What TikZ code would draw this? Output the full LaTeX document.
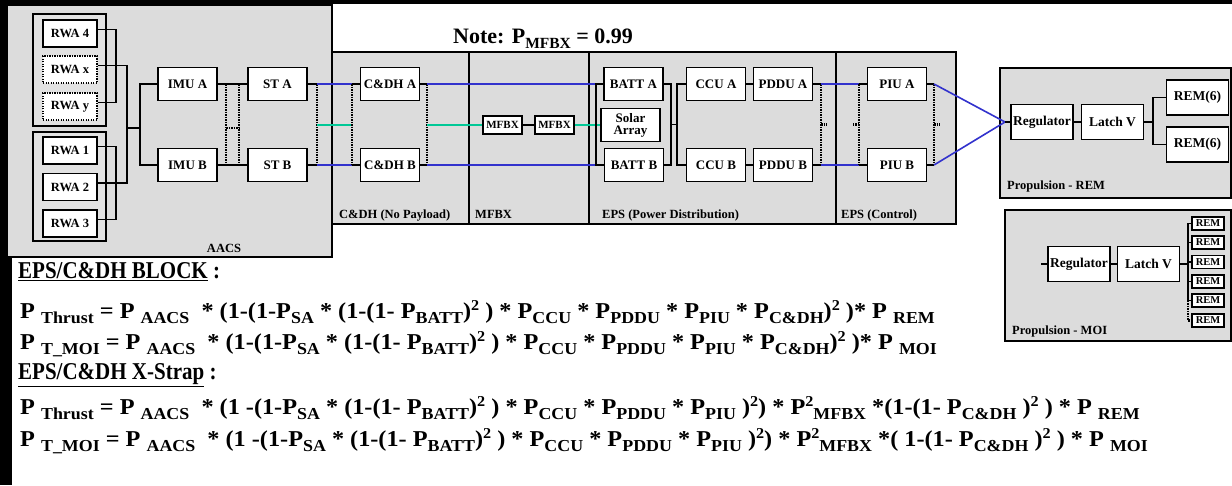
\documentclass[tikz,border=0pt]{standalone}
\usepackage{fontspec}
\setmainfont{Liberation Serif}
\usetikzlibrary{positioning,calc}
\definecolor{panelgray}{RGB}{220,220,220}
\definecolor{groupgray}{RGB}{226,226,226}
\definecolor{busblue}{RGB}{50,50,205}
\definecolor{busgreen}{RGB}{0,200,150}
% lowered / raised parts of the reliability formulas
\newcommand{\lo}[1]{\raisebox{-0.26em}{\fontsize{15.5}{15}\selectfont #1}}
\newcommand{\hi}[1]{\raisebox{0.33em}{\fontsize{14}{14}\selectfont #1}}

\begin{document}
\begin{tikzpicture}[x=1pt,y=-1pt,
  panel/.style={fill=panelgray,draw=black,line width=1.5pt},
  group/.style={fill=groupgray,draw=black,line width=1.8pt},
  blk/.style={draw,fill=white,line width=1.6pt,minimum width=59pt,minimum height=33pt,
    inner sep=1pt,align=center,font=\bfseries\fontsize{13}{12}\selectfont},
  rwa/.style={blk,minimum width=54pt,minimum height=27pt,font=\bfseries\fontsize{12.5}{12}\selectfont},
  optrwa/.style={rwa,line width=2.2pt,dash pattern=on 1.4pt off 1.1pt},
  bigblk/.style={blk,minimum width=62pt,minimum height=35pt,font=\bfseries\fontsize{13.5}{13}\selectfont},
  tiny/.style={draw,fill=white,line width=1.5pt,minimum width=32pt,minimum height=13pt,
    inner sep=0pt,font=\bfseries\fontsize{10.5}{10}\selectfont},
  mfbx/.style={tiny,minimum width=39pt,minimum height=18pt,font=\bfseries\fontsize{11}{10}\selectfont},
  link/.style={line width=1.8pt},
  xlink/.style={line width=2.6pt,dash pattern=on 1.5pt off 1pt},
  bluebus/.style={line width=1.6pt,busblue},
  greenbus/.style={line width=1.6pt,busgreen},
  tag/.style={anchor=base west,inner sep=0pt,font=\bfseries\fontsize{12.5}{12}\selectfont},
  eq/.style={anchor=base west,inner sep=0pt,font=\bfseries\fontsize{21}{24}\selectfont}]
\useasboundingbox (0,0) rectangle (1232,485);
\fill[white] (0,0) rectangle (1232,485);
\fill[black] (0,0) rectangle (1232,4);
\fill[black] (0,0) rectangle (12,485);

% ---- panels
\draw[panel] (7,5) rectangle (332,257);
\draw[panel] (332,52) rectangle (469,224);
\draw[panel] (469,52) rectangle (589,224);
\draw[panel] (589,52) rectangle (836,224);
\draw[panel] (836,52) rectangle (956,224);
\draw[panel] (1000,68) rectangle (1231,198);
\draw[panel] (1005,210) rectangle (1231,341);
\draw[group] (33,14) rectangle (106,126);
\draw[group] (33,132) rectangle (106,241);

\node[tag,anchor=base] (aacstag) at (224,252) {AACS};
\node[tag] (cdhtag) at (339,218) {C\&DH (No Payload)};
\node[tag] (mfbxtag) at (475,218) {MFBX};
\node[tag] (pdtag) at (602,218) {EPS (Power Distribution)};
\node[tag] (ctltag) at (841,218) {EPS (Control)};
\node[tag] (remtag) at (1007,189) {Propulsion - REM};
\node[tag] (moitag) at (1012,334) {Propulsion - MOI};
\node[anchor=base west,inner sep=0pt,font=\bfseries\fontsize{22}{22}\selectfont] (note) at (453,43)
  {Note: P\lo{MFBX} = 0.99};

% ---- AACS
\node[rwa] (rwa4) at (70,33.5) {RWA 4};
\node[optrwa] (rwax) at (70,69.5) {RWA x};
\node[optrwa] (rway) at (70,106.5) {RWA y};
\node[rwa] (rwa1) at (70,150.5) {RWA 1};
\node[rwa] (rwa2) at (70,187) {RWA 2};
\node[rwa] (rwa3) at (70,223.5) {RWA 3};
\node[blk] (imua) at (187.5,84) {IMU A};
\node[blk] (imub) at (187.5,165) {IMU B};
\node[blk] (sta) at (277.5,84) {ST A};
\node[blk] (stb) at (277.5,165) {ST B};

\coordinate (rwabus) at (127,128);
\coordinate (imubus) at (140,128);
\draw[link] ([yshift=4pt]rwa4.east) -- ++(18,0) |- ([yshift=4pt]rway.east);
\draw[link] ([yshift=4pt]rwa1.east) -- ++(18,0) |- ([yshift=4pt]rwa3.east);
\draw[link] ([yshift=4pt]rwax.east) -| (rwabus) |- ([yshift=4pt]rwa2.east);
\draw[link] (rwabus) -- (imubus);
\draw[link] (imua.west) -| (imubus) |- (imub.west);
\draw[link] (imua) -- (sta);
\draw[link] (imub) -- (stb);
\coordinate (xa) at (226,84);  \coordinate (xb) at (226,165);
\coordinate (ya) at (239,84);  \coordinate (yb) at (239,165);
\draw[xlink] (xa) -- (xb) (ya) -- (yb) (226,128) -- (239,128);
\coordinate (sto1) at (317,84);
\coordinate (sto2) at (317,165);
\coordinate (sto3) at (317,125);
\draw[link] (sta.east) -- (sto1);
\draw[link] (stb.east) -- (sto2);
\draw[xlink] (sto1) -- (sto2);

% ---- C&DH
\node[blk] (cdha) at (390,84) {C\&DH A};
\node[blk] (cdhb) at (390,165) {C\&DH B};
\coordinate (cin1) at (352,84);  \coordinate (cin2) at (352,165);  \coordinate (cin3) at (352,125);
\coordinate (cout1) at (427,84); \coordinate (cout2) at (427,165); \coordinate (cout3) at (427,125);
\draw[bluebus] (sto1) -- (cin1);
\draw[bluebus] (sto2) -- (cin2);
\draw[greenbus] (sto3) -- (cin3);
\draw[link] (cin1) -- (cdha.west) (cin2) -- (cdhb.west);
\draw[link] (cdha.east) -- (cout1) (cdhb.east) -- (cout2);
\draw[xlink] (cin1) -- (cin2);
\draw[xlink] (cout1) -- (cout2);

% ---- MFBX
\node[mfbx] (mfbx1) at (502.5,125) {MFBX};
\node[mfbx] (mfbx2) at (554.5,125) {MFBX};
\draw[greenbus] (cout3) -- (mfbx1.west);
\draw[link] (mfbx1) -- (mfbx2);

% ---- EPS power distribution
\node[blk] (batta) at (633.5,84) {BATT A};
\node[blk] (solar) at (630.5,125) {Solar\\Array};
\node[blk] (battb) at (634,165) {BATT B};
\node[blk] (ccua) at (716,84) {CCU A};
\node[blk] (ccub) at (716,165) {CCU B};
\node[blk] (pddua) at (783,84) {PDDU A};
\node[blk] (pddub) at (783,165) {PDDU B};
\draw[greenbus] (mfbx2.east) -- (solar.west);
\coordinate (bin1) at (596,84);
\coordinate (bin2) at (596,165);
\draw[bluebus] (cout1) -- (bin1);
\draw[bluebus] (cout2) -- (bin2);
\draw[link] (batta.west) -- (bin1) -- (bin2) -- (battb.west);
\coordinate (bmid) at (671,124.5);
\coordinate (cmid) at (677,124.5);
\draw[link] (batta.east) -| (bmid) |- (battb.east);
\draw[link] (bmid) -- (cmid);
\draw[link] (ccua.west) -| (cmid) |- (ccub.west);
\draw[link] (ccua) -- (pddua);
\draw[link] (ccub) -- (pddub);
\coordinate (pout1) at (821,84);
\coordinate (pout2) at (821,165);
\draw[link] (pddua.east) -- (pout1) (pddub.east) -- (pout2);
\draw[xlink] (pout1) -- (pout2) ($(pout1)!0.5!(pout2)$) -- ++(6,0);

% ---- EPS control
\node[blk] (piua) at (897,84) {PIU A};
\node[blk] (piub) at (897,165) {PIU B};
\coordinate (iin1) at (859,84);  \coordinate (iin2) at (859,165);
\coordinate (iout1) at (934,84); \coordinate (iout2) at (934,165);
\draw[bluebus] (pout1) -- (iin1);
\draw[bluebus] (pout2) -- (iin2);
\draw[link] (iin1) -- (piua.west) (iin2) -- (piub.west);
\draw[link] (piua.east) -- (iout1) (piub.east) -- (iout2);
\draw[xlink] (iin1) -- (iin2) ($(iin1)!0.5!(iin2)$) -- ++(-6,0);
\draw[xlink] (iout1) -- (iout2) ($(iout1)!0.5!(iout2)$) -- ++(6,0);

% ---- propulsion REM
\node[bigblk] (regrem) at (1042,122) {Regulator};
\node[bigblk] (latchrem) at (1112.5,122) {Latch V};
\node[bigblk] (rema) at (1197.5,97.5) {REM(6)};
\node[bigblk] (remb) at (1197.5,144.5) {REM(6)};
\coordinate (rjoin) at (1005,122);
\draw[bluebus] (iout1) -- (rjoin);
\draw[bluebus] (iout2) -- (rjoin);
\draw[link] (rjoin) -- (regrem.west);
\draw[link] (regrem) -- (latchrem);
\coordinate (remsplit) at (1153,122);
\draw[link] (latchrem.east) -- (remsplit);
\draw[link] (rema.west) -| (remsplit) |- (remb.west);

% ---- propulsion MOI
\node[bigblk] (regmoi) at (1079,264) {Regulator};
\node[bigblk] (latchmoi) at (1148.5,264) {Latch V};
\foreach \i/\yy in {1/223.5,2/242.5,3/262,4/281.5,5/300.5,6/320.5}
  \node[tiny] (remm\i) at (1208,\yy) {REM};
\coordinate (moistub) at (1041,264);
\coordinate (moisplit) at (1188,264);
\draw[link] (moistub) -- (regmoi.west);
\draw[link] (regmoi) -- (latchmoi);
\draw[link] (latchmoi.east) -- (moisplit);
\draw[link] (remm1.west) -| (moisplit) |- (remm5.west);
\foreach \i in {2,3,4}
  \draw[link] (remm\i.west) -- (remm\i.west -| moisplit);
\draw[xlink] (remm5.west -| moisplit) |- (remm6.west);

% ---- reliability formulas
\node[eq] (h1) at (18,278) {\scalebox{1}[1.15]{\underline{EPS/C\&DH BLOCK} :}};
\node[eq] (f1) at (20,318) {\scalebox{1.155}[1.08]{P \lo{Thrust} = P \lo{AACS}\ \ * (1-(1-P\lo{SA} * (1-(1- P\lo{BATT})\hi{2} ) * P\lo{CCU} * P\lo{PDDU} * P\lo{PIU} * P\lo{C\&DH})\hi{2} )* P \lo{REM}}};
\node[eq] (f2) at (20,349) {\scalebox{1.155}[1.08]{P \lo{T\_MOI} = P \lo{AACS}\ \ * (1-(1-P\lo{SA} * (1-(1- P\lo{BATT})\hi{2} ) * P\lo{CCU} * P\lo{PDDU} * P\lo{PIU} * P\lo{C\&DH})\hi{2} )* P \lo{MOI}}};
\node[eq] (h2) at (18,379) {\scalebox{1}[1.15]{\underline{EPS/C\&DH X-Strap} :}};
\node[eq] (f3) at (20,414) {\scalebox{1.155}[1.08]{P \lo{Thrust} = P \lo{AACS}\ \ * (1 -(1-P\lo{SA} * (1-(1- P\lo{BATT})\hi{2} ) * P\lo{CCU} * P\lo{PDDU} * P\lo{PIU} )\hi{2}) * P\hi{2}\lo{MFBX} *(1-(1- P\lo{C\&DH} )\hi{2} ) * P \lo{REM}}};
\node[eq] (f4) at (20,446) {\scalebox{1.155}[1.08]{P \lo{T\_MOI} = P \lo{AACS}\ \ * (1 -(1-P\lo{SA} * (1-(1- P\lo{BATT})\hi{2} ) * P\lo{CCU} * P\lo{PDDU} * P\lo{PIU} )\hi{2}) * P\hi{2}\lo{MFBX} *( 1-(1- P\lo{C\&DH} )\hi{2} ) * P \lo{MOI}}};
\end{tikzpicture}
\end{document}
